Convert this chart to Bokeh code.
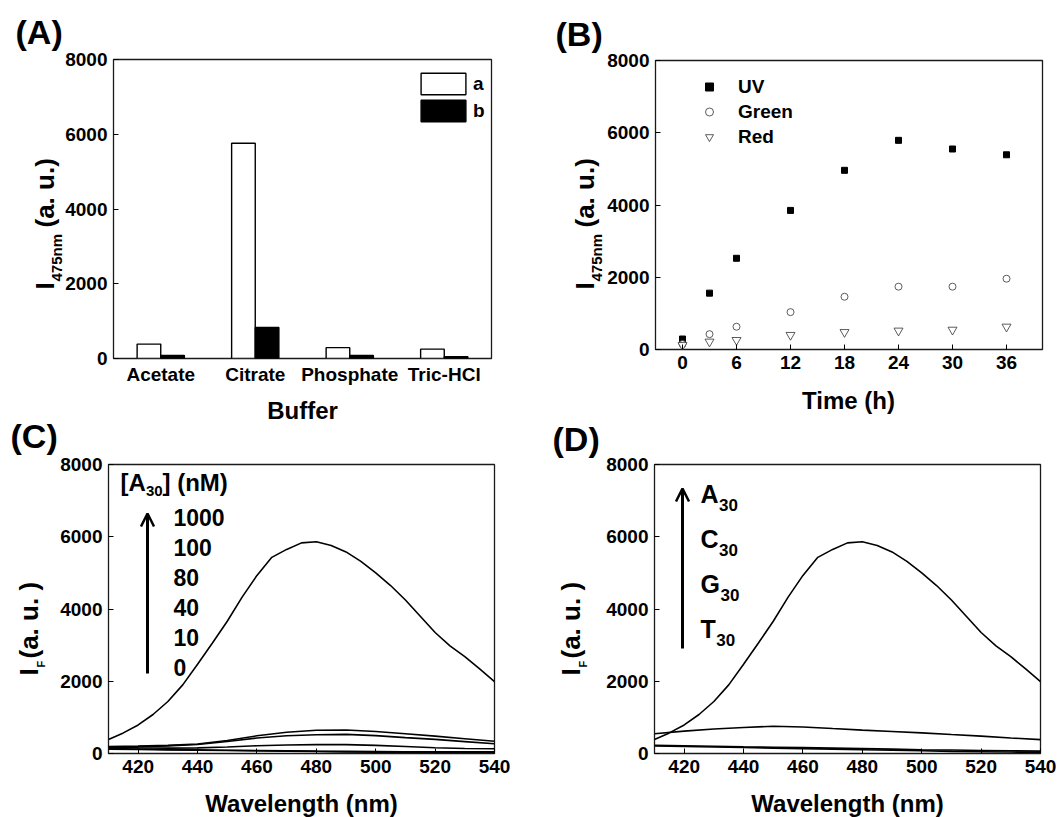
from math import pi
from bokeh.plotting import figure
from bokeh.models import (Range1d, FixedTicker, Label, Legend, LegendItem, Arrow,
                          OpenHead, ColumnDataSource)
from bokeh.transform import dodge
from bokeh.embed import file_html
from bokeh.resources import INLINE

FONT = "Liberation Sans"

# ---------------- data ----------------
# (A) buffer comparison
buffers = ["Acetate", "Citrate", "Phosphate", "Tric-HCl"]
buffer_pos = [1, 2, 3, 4]
buffer_a = [385, 5760, 290, 250]
buffer_b = [80, 830, 80, 50]

# (B) time course
time_h = [0, 3, 6, 12, 18, 24, 30, 36]
uv = [290, 1560, 2525, 3850, 4960, 5790, 5550, 5390]
green = [150, 425, 630, 1035, 1460, 1740, 1740, 1960]
red = [120, 215, 260, 400, 480, 520, 545, 630]
time_ticks = [0, 6, 12, 18, 24, 30, 36]

# (C)/(D) spectra
wl5 = [410, 415, 420, 425, 430, 435, 440, 445, 450, 455, 460, 465, 470, 475,
       480, 485, 490, 495, 500, 505, 510, 515, 520, 525, 530, 535, 540]
a30_1000 = [390, 570, 790, 1080, 1440, 1900, 2470, 3060, 3660, 4330, 4930, 5430,
            5650, 5830, 5860, 5760, 5580, 5320, 5000, 4650, 4250, 3800, 3350,
            2980, 2680, 2340, 1990]
wl10 = [410, 420, 430, 440, 450, 460, 470, 480, 490, 500, 510, 520, 530, 540]
a30_100 = [190, 205, 225, 265, 360, 490, 590, 645, 650, 610, 545, 480, 410, 340]
a30_80 = [175, 190, 210, 250, 330, 430, 490, 520, 530, 495, 440, 390, 330, 270]
a30_40 = [175, 160, 150, 155, 180, 215, 235, 245, 245, 225, 195, 160, 140, 130]
a30_10 = [140, 125, 112, 100, 90, 80, 72, 65, 60, 55, 50, 48, 46, 45]
a30_0 = [120, 110, 100, 90, 83, 75, 65, 55, 45, 38, 33, 30, 28, 27]
c30 = [545, 620, 680, 720, 755, 735, 690, 648, 610, 572, 525, 480, 430, 385]
g30 = [230, 215, 200, 185, 175, 165, 150, 135, 120, 105, 95, 85, 75, 65]
t30 = [210, 195, 180, 165, 150, 135, 120, 105, 90, 75, 60, 50, 40, 35]
conc_labels = ["1000", "100", "80", "40", "10", "0"]
oligo_labels = ["A", "C", "G", "T"]
wl_ticks = [420, 440, 460, 480, 500, 520, 540]
int_ticks = [0, 2000, 4000, 6000, 8000]

W, H = 1059, 817
BASE_K = 0.335  # empirical baseline correction (fraction of font size)

# ---------------- helpers ----------------
def base_fig(spec):
    ox, oy, w, h = spec["box"]
    l, t, r, b = spec["frame"]
    p = figure(width=w, height=h, x_range=Range1d(*spec["xr"]), y_range=Range1d(*spec["yr"]),
               output_backend="svg", toolbar_location=None,
               min_border_left=l - ox, min_border_right=ox + w - r,
               min_border_top=t - oy, min_border_bottom=oy + h - b,
               styles={"position": "absolute", "left": f"{ox}px", "top": f"{oy}px",
                       "z-index": "1"})
    p.grid.visible = False
    p.outline_line_color = "#1a1a1a"
    p.outline_line_width = 1.3
    p.background_fill_color = "white"
    p.border_fill_color = "white"
    for ax in (p.xaxis[0], p.yaxis[0]):
        ax.axis_line_color = None
        ax.major_tick_in = 5
        ax.major_tick_out = 0
        ax.minor_tick_line_color = None
        ax.major_tick_line_color = "black"
        ax.major_label_text_font = FONT
        ax.major_label_text_font_style = "bold"
        ax.major_label_text_font_size = "19px"
        ax.major_label_text_color = "black"
        ax.major_label_standoff = 6
    p.yaxis.ticker = FixedTicker(ticks=int_ticks)
    return p


def to_data(spec, px, py):
    l, t, r, b = spec["frame"]
    x0, x1 = spec["xr"]
    y0, y1 = spec["yr"]
    x = x0 + (px - l) / (r - l) * (x1 - x0)
    y = y0 + (b - py) / (b - t) * (y1 - y0)
    return x, y


def put(p, spec, px, py, text, size, angle=0.0, align="left"):
    # (px, py) is the wanted alphabetic baseline anchor in page pixels
    if angle == 0.0:
        py = py - BASE_K * size
    else:
        px = px - BASE_K * size
    x, y = to_data(spec, px, py)
    p.add_layout(Label(x=x, y=y, text=text, angle=angle, text_font=FONT,
                       text_font_style="bold", text_font_size=f"{size}px",
                       text_align=align, text_baseline="alphabetic", text_color="black"))


def arrow(p, spec, px, py0, py1):
    x, y0 = to_data(spec, px, py0)
    _, y1 = to_data(spec, px, py1)
    p.add_layout(Arrow(x_start=x, y_start=y0, x_end=x, y_end=y1, line_width=3,
                       line_color="black",
                       end=OpenHead(size=13, line_width=2.5, line_color="black")))


# page geometry (page px, origin at window top-left)
specA = dict(box=(0, 0, 530, 419), frame=(113, 59, 491, 358), xr=(0.5, 4.5), yr=(0, 8000))
specB = dict(box=(530, 0, 529, 419), frame=(655, 60, 1042, 349), xr=(-3, 40), yr=(0, 8000))
specC = dict(box=(0, 419, 530, 398), frame=(108, 464, 494, 753), xr=(410, 540), yr=(0, 8000))
specD = dict(box=(530, 419, 529, 398), frame=(654, 464, 1040, 753), xr=(410, 540), yr=(0, 8000))
specO = dict(box=(0, 0, W, H), frame=(0, 0, W, H), xr=(0, W), yr=(H, 0))

# ---------------- (A) ----------------
pA = base_fig(specA)
srcA = ColumnDataSource(dict(x=buffer_pos, a=buffer_a, b=buffer_b))
ra = pA.vbar(x=dodge("x", -0.125), top="a", width=0.25, source=srcA,
             fill_color="white", line_color="black", line_width=1.4)
rb = pA.vbar(x=dodge("x", 0.125), top="b", width=0.25, source=srcA,
             fill_color="black", line_color="black", line_width=1.4)
pA.xaxis.ticker = FixedTicker(ticks=buffer_pos)
pA.xaxis.major_label_overrides = {pos: name for pos, name in zip(buffer_pos, buffers)}
pA.xaxis.major_tick_in = 0
pA.xaxis.major_label_standoff = 5
legA = Legend(items=[LegendItem(label="a", renderers=[ra]), LegendItem(label="b", renderers=[rb])],
              location=(302, 234), glyph_width=56, glyph_height=27, spacing=0, padding=0,
              margin=0, label_standoff=2, label_width=10, label_height=20,
              border_line_color=None, background_fill_alpha=0,
              label_text_font=FONT, label_text_font_style="bold", label_text_font_size="19px",
              label_text_color="black")
pA.add_layout(legA)

# ---------------- (B) ----------------
pB = base_fig(specB)
pB.xaxis.ticker = FixedTicker(ticks=time_ticks)
srcB = ColumnDataSource(dict(t=time_h, uv=uv, green=green, red=red))
r_uv = pB.scatter("t", "uv", source=srcB, marker="square", size=6,
                  fill_color="black", line_color="black")
r_gr = pB.scatter("t", "green", source=srcB, marker="circle", size=7,
                  fill_color="white", line_color="#333333", line_width=0.8)
r_rd = pB.scatter("t", "red", source=srcB, marker="inverted_triangle", size=9,
                  fill_color="white", line_color="#333333", line_width=0.8)
legB = Legend(items=[LegendItem(label="UV", renderers=[r_uv]),
                     LegendItem(label="Green", renderers=[r_gr]),
                     LegendItem(label="Red", renderers=[r_rd])],
              location=(44, 200), glyph_width=20, glyph_height=25, spacing=0, padding=0,
              margin=0, label_standoff=19, label_height=20,
              border_line_color=None, background_fill_alpha=0,
              label_text_font=FONT, label_text_font_style="bold", label_text_font_size="19px",
              label_text_color="black")
pB.add_layout(legB)

# ---------------- (C) ----------------
pC = base_fig(specC)
pC.xaxis.ticker = FixedTicker(ticks=wl_ticks)
for series in (a30_0, a30_10, a30_40, a30_80, a30_100):
    pC.line(wl10, series, line_color="black", line_width=1.6)
pC.line(wl5, a30_1000, line_color="black", line_width=1.6)
put(pC, specC, 120, 490, "[A", 24)
put(pC, specC, 145.5, 496, "30", 15)
put(pC, specC, 162, 490, "] (nM)", 24)
for i, txt in enumerate(conc_labels):
    put(pC, specC, 173, 525 + 30 * i, txt, 23)
arrow(pC, specC, 147, 673, 513)

# ---------------- (D) ----------------
pD = base_fig(specD)
pD.xaxis.ticker = FixedTicker(ticks=wl_ticks)
for series in (t30, g30, c30):
    pD.line(wl10, series, line_color="black", line_width=1.6)
pD.line(wl5, a30_1000, line_color="black", line_width=1.6)
letter_w = {"A": 0.722, "C": 0.722, "G": 0.778, "T": 0.611}
for i, letter in enumerate(oligo_labels):
    base_y = 502 + 45 * i
    put(pD, specD, 700, base_y, letter, 25)
    put(pD, specD, 700 + letter_w[letter] * 25 + 0.5, base_y + 8.5, "30", 17)
arrow(pD, specD, 682, 648, 488)

# ---------------- transparent overlay for texts outside the plot frames ----------------
pO = figure(width=W, height=H, x_range=Range1d(0, W), y_range=Range1d(H, 0),
            output_backend="svg", toolbar_location=None, x_axis_type=None, y_axis_type=None,
            min_border=0, min_border_left=0, min_border_right=0, min_border_top=0,
            min_border_bottom=0,
            styles={"position": "absolute", "left": "0px", "top": "0px", "z-index": "5",
                    "pointer-events": "none"})
pO.outline_line_color = None
pO.background_fill_color = None
pO.border_fill_color = None
pO.grid.visible = False

# panel letters
put(pO, specO, 15, 43, "(A)", 34)
put(pO, specO, 555, 45, "(B)", 34)
put(pO, specO, 10, 447, "(C)", 34)
put(pO, specO, 552, 450, "(D)", 34)
# axis titles
put(pO, specO, 302, 418, "Buffer", 24, align="center")
put(pO, specO, 848, 408, "Time (h)", 24, align="center")
put(pO, specO, 301, 811, "Wavelength (nm)", 24, align="center")
put(pO, specO, 847, 811, "Wavelength (nm)", 24, align="center")
# y titles (rotated, with subscripts)
for dx in (0, 540):
    put(pO, specO, 53 + dx, 289, "I", 26, angle=pi / 2)
    put(pO, specO, 61 + dx, 281, "475nm", 15, angle=pi / 2)
    put(pO, specO, 53 + dx, 227, "(a. u.)", 26, angle=pi / 2)
for dx in (0, 542):
    put(pO, specO, 37 + dx, 675, "I", 26, angle=pi / 2)
    put(pO, specO, 44 + dx, 667, "F", 11, angle=pi / 2)
    put(pO, specO, 37 + dx, 658, "(a. u. )", 26, angle=pi / 2)

open("out.html", "w").write(file_html([pA, pB, pC, pD, pO], INLINE))
